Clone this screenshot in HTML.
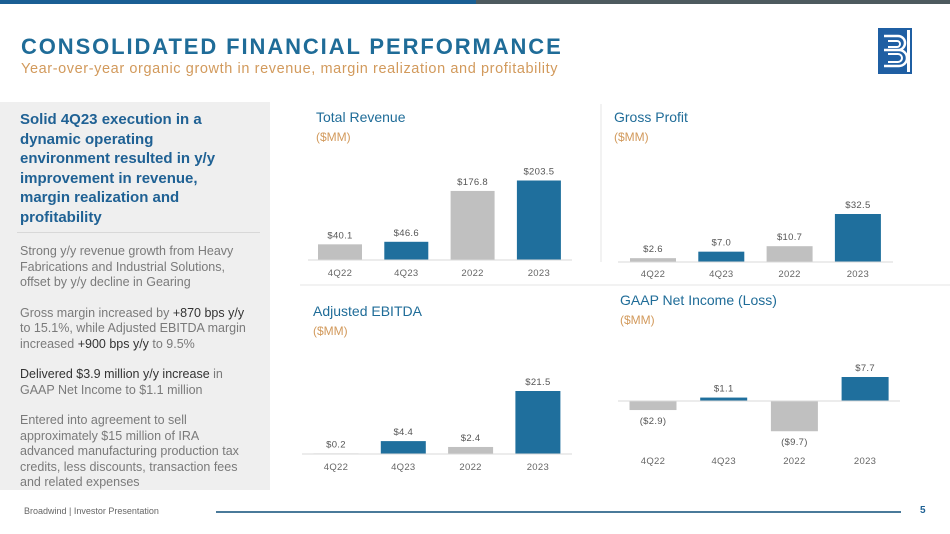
<!DOCTYPE html>
<html><head><meta charset="utf-8"><style>
body{margin:0;width:950px;height:534px;overflow:hidden;background:#fff;font-family:"Liberation Sans",sans-serif;position:relative}
.abs{position:absolute}
</style></head><body>
<div class="abs" style="left:0;top:0;width:476px;height:4px;background:#1a5f94"></div>
<div class="abs" style="left:476px;top:0;width:474px;height:4px;background:#4d5a5f"></div>
<div class="abs" style="left:21px;top:34px;font-size:22px;font-weight:bold;color:#1f6c98;letter-spacing:1.9px">CONSOLIDATED FINANCIAL PERFORMANCE</div>
<div class="abs" style="left:21px;top:61px;font-size:14.5px;color:#d29a5c;letter-spacing:0.6px">Year-over-year organic growth in revenue, margin realization and profitability</div>
<svg class="abs" style="left:878px;top:28px" width="34" height="46" viewBox="0 0 34 46">
<rect x="1" y="1" width="32" height="44" fill="none" stroke="#1f5fa3" stroke-width="2"/>
<rect x="1" y="1" width="28" height="44" fill="#1f5fa3"/>
<path d="M6 8h14a7 7 0 0 1 0 14H6M6 22h15a8 8 0 0 1 0 16H6" fill="none" stroke="#fff" stroke-width="2.5"/>
<path d="M10 13h9a3 3 0 0 1 0 6h-9M10 26h10a4 4 0 0 1 0 8h-10" fill="none" stroke="#fff" stroke-width="2"/>
</svg>
<div class="abs" style="left:0;top:102px;width:270px;height:388px;background:#efefef">
<div style="position:absolute;left:20px;top:8px;width:215px;font-size:15px;font-weight:bold;line-height:19.5px;color:#1f6194">Solid 4Q23 execution in a dynamic operating environment resulted in y/y improvement in revenue, margin realization and profitability</div>
<div style="position:absolute;left:17px;top:130px;width:243px;height:1px;background:#d8d8d8"></div>
<div style="position:absolute;left:20px;top:142px;width:232px;font-size:12.5px;line-height:15.5px;color:#7a7a7a">
<p style="margin:0 0 15px">Strong y/y revenue growth from Heavy Fabrications and Industrial Solutions, offset by y/y decline in Gearing</p>
<p style="margin:0 0 15px">Gross margin increased by <span style="color:#333">+870 bps y/y</span> to 15.1%, while Adjusted EBITDA margin increased <span style="color:#333">+900 bps y/y</span> to 9.5%</p>
<p style="margin:0 0 15px"><span style="color:#333">Delivered $3.9 million y/y increase</span> in GAAP Net Income to $1.1 million</p>
<p style="margin:0">Entered into agreement to sell approximately $15 million of IRA advanced manufacturing production tax credits, less discounts, transaction fees and related expenses</p>
</div></div>
<svg class="abs" id="charts" style="left:0;top:0" width="950" height="534"></svg>
<div class="abs" style="left:24px;top:506px;font-size:9px;color:#666">Broadwind | Investor Presentation</div>
<div class="abs" style="left:216px;top:511px;width:685px;height:2px;background:#4a7a9a"></div>
<div class="abs" style="left:920px;top:505px;font-size:10px;font-weight:bold;color:#1f6194">5</div>
<script>
const categories=["4Q22","4Q23","2022","2023"];
const revenueValues=[40.1,46.6,176.8,203.5];
const grossProfitValues=[2.6,7.0,10.7,32.5];
const ebitdaValues=[0.2,4.4,2.4,21.5];
const netIncomeValues=[-2.9,1.1,-9.7,7.7];
const BLUE="#1f6f9d",GRAY="#c0c0c0";
const svg=document.getElementById('charts');
const NS="http://www.w3.org/2000/svg";
function mk(t,a){const e=document.createElementNS(NS,t);for(const k in a)e.setAttribute(k,a[k]);svg.appendChild(e);return e;}
function fmt(v){return v<0?"($"+Math.abs(v).toFixed(1)+")":"$"+v.toFixed(1);}
let d=mk('line',{x1:601,y1:104,x2:601,y2:262,stroke:'#e4e4e4','stroke-width':1});


d=mk('line',{x1:300,y1:285,x2:950,y2:285,stroke:'#e4e4e4','stroke-width':1});


function chart(name,title,tx,ty,values,cx0,step,bw,zeroY,scale,axX1,axX2,labY){
  let t=mk('text',{x:tx,y:ty,'font-size':14,fill:'#1f6c98','font-family':'Liberation Sans'});t.textContent=title;
  
  
  t=mk('text',{x:tx,y:ty+19,'font-size':12,fill:'#d29a5c','font-family':'Liberation Sans'});t.textContent='($MM)';
  
  
  values.forEach((v,i)=>{
    const cx=cx0+i*step,h=Math.abs(v)*scale,col=(i%2)?BLUE:GRAY;
    const y=v>=0?zeroY-h:zeroY;
    const r=mk('rect',{x:cx-bw/2,y:y,width:bw,height:Math.max(h,0.5),fill:col});
    
    
    const ly=v>=0?zeroY-h-6:zeroY+h+14;
    const l=mk('text',{x:cx,y:ly,'text-anchor':'middle','font-size':9.5,fill:'#555','font-family':'Liberation Sans','letter-spacing':0.3});l.textContent=fmt(v);
    
    
    const c=mk('text',{x:cx,y:labY,'text-anchor':'middle','font-size':9.5,fill:'#666','font-family':'Liberation Sans','letter-spacing':0.3});c.textContent=categories[i];
    
    
  });
  const a=mk('line',{x1:axX1,y1:zeroY,x2:axX2,y2:zeroY,stroke:'#d9d9d9','stroke-width':1});
  
  
}
chart('revenue','Total Revenue',316,122,revenueValues,340,66.3,44,260,79.5/203.5,308,572,276);
chart('gross-profit','Gross Profit',614,122,grossProfitValues,653,68.3,46,262,48/32.5,618,893,277);
chart('ebitda','Adjusted EBITDA',313,316,ebitdaValues,336,67.3,45,454,63/21.5,302,572,470);
chart('net-income','GAAP Net Income (Loss)',620,305,netIncomeValues,653,70.7,47,401,24/7.7,618,900,464);
</script>
</body></html>
